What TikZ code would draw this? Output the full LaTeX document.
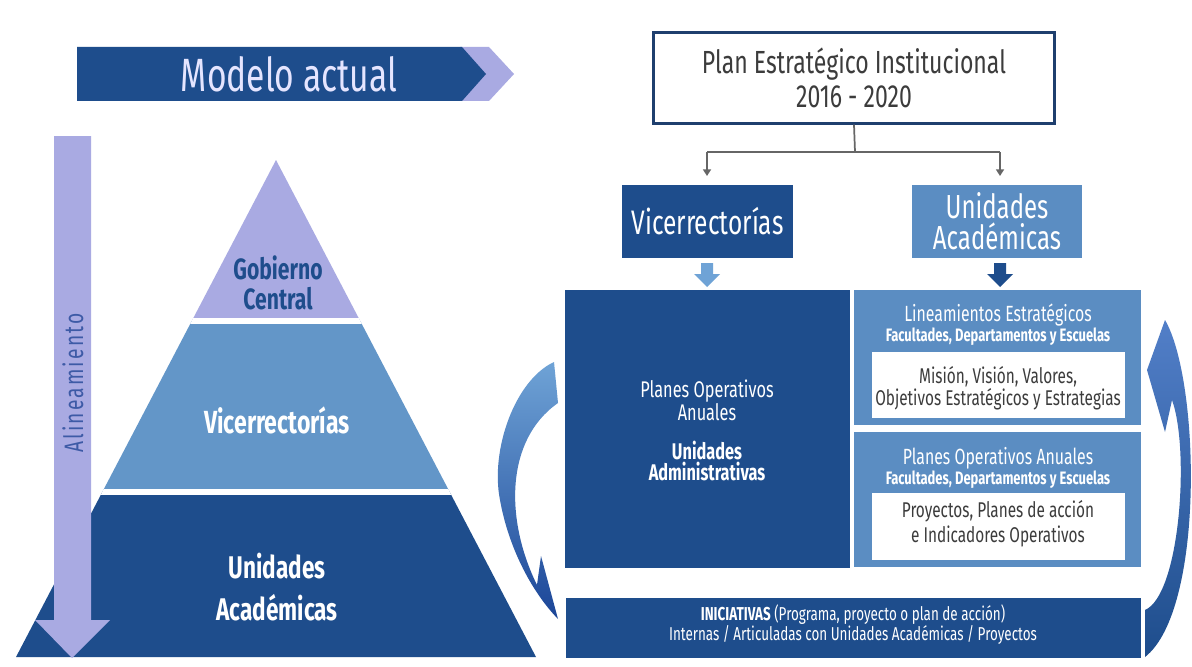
\documentclass[tikz,border=0pt]{standalone}
\usepackage{fontspec}
\setmainfont{Fira Sans}[FakeStretch=0.72]
\usetikzlibrary{arrows.meta}
\definecolor{dblue}{HTML}{1E4D8C}
\definecolor{mblue}{HTML}{5B8DC2}
\definecolor{pmid}{HTML}{6396C8}
\definecolor{lpurp}{HTML}{A9AAE2}
\definecolor{lblue}{HTML}{6FA3D6}
\definecolor{navy}{HTML}{1F3F6E}
\definecolor{txtgray}{HTML}{3C3C3C}
\definecolor{aliblue}{HTML}{3D5AA6}
\tikzset{
  wtxt/.style={text=white, align=center, inner sep=0},
  conn/.style={draw=gray!80!black, line width=1.3pt},
}
\begin{document}
\begin{tikzpicture}[x=0.75pt,y=-0.75pt]
\useasboundingbox (0,0) rectangle (1192,667);
\fill[white] (0,0) rectangle (1192,667);

% ---- Modelo actual banner
\fill[lpurp] (460,47) -- (489,47) -- (514,74) -- (489,101) -- (460,101) -- (485,74) -- cycle;
\fill[dblue] (77,47) -- (462,47) -- (486,74) -- (462,101) -- (77,101) -- cycle;
\node (modelo) [wtxt, text=white!90!blue, font=\fontsize{35}{38}\selectfont] at (289,74) {Modelo actual};

% ---- Pyramid
\begin{scope}
\clip (276,160) -- (536,657) -- (16,657) -- cycle;
\fill[lpurp] (0,150) rectangle (600,321);
\fill[pmid] (0,321) rectangle (600,492);
\fill[dblue] (0,492) rectangle (600,670);
\draw[white, line width=4pt] (0,321) -- (600,321);
\draw[white, line width=4pt] (0,492) -- (600,492);
\end{scope}
\node (gob) [align=center, inner sep=0, text=dblue, font=\fontsize{22}{22.5}\selectfont\bfseries] at (278,283) {Gobierno\\Central};
\node (pvice) [wtxt, font=\fontsize{24}{26}\selectfont\bfseries] at (277,420) {Vicerrectorías};
\node (punid) [wtxt, font=\fontsize{23.5}{31}\selectfont\bfseries] at (277,587) {Unidades\\Académicas};

% ---- Alineamiento arrow
\fill[lpurp] (54,136) -- (91,136) -- (91,620) -- (110,620) -- (72,658) -- (35,620) -- (54,620) -- cycle;
\node (ali) [rotate=90, inner sep=0, text=aliblue, font=\fontsize{20}{21}\selectfont\addfontfeature{LetterSpace=8}] at (73,383) {Alineamiento};

% ---- Plan box and connectors
\node (plan) [draw=navy, line width=2pt, fill=white, minimum width=301pt, minimum height=68pt, align=center, text=txtgray, font=\fontsize{24}{26}\selectfont] at (854,78) {Plan Estratégico Institucional\\2016 - 2020};
\node (vice) [fill=dblue, minimum width=128pt, minimum height=55pt, wtxt, font=\fontsize{25.5}{27}\selectfont] at (707.5,221.5) {Vicerrectorías};
\node (unid) [fill=mblue, minimum width=127pt, minimum height=55pt, wtxt, font=\fontsize{25}{23}\selectfont] at (997,221.5) {Unidades\\Académicas};
\coordinate (split) at (855,152);
\coordinate (jv) at (707,152);
\coordinate (ju) at (1000,152);
\coordinate (av) at (707,176);
\coordinate (au) at (1000,176);
\draw[conn] (plan.south) -- (split);
\draw[conn] (jv) -- (ju);
\draw[conn, -{Triangle[length=5pt,width=6pt]}] (jv) -- (av);
\draw[conn, -{Triangle[length=5pt,width=6pt]}] (ju) -- (au);

% block arrows
\fill[lblue] (701,263) -- (713,263) -- (713,274) -- (720,274) -- (707,287) -- (694,274) -- (701,274) -- cycle;
\fill[dblue] (994,263) -- (1006,263) -- (1006,274) -- (1013,274) -- (1000,287) -- (987,274) -- (994,274) -- cycle;

% ---- Dark box
\fill[dblue] (565,290) rectangle (850,568);
\node (dark) [wtxt, font=\fontsize{17}{15.5}\selectfont] at (707,430) {Planes Operativos\\Anuales\\[14pt]\bfseries Unidades\\\bfseries Administrativas};

% ---- Right panels
\fill[mblue] (854,290) rectangle (1141,425);
\fill[mblue] (854,432) rectangle (1141,567);
\fill[white] (872,352) rectangle (1125,418);
\fill[white] (872,493) rectangle (1125,560);
\node (lin) [wtxt, font=\fontsize{16.5}{17}\selectfont] at (998,315) {Lineamientos Estratégicos};
\node (fac1) [wtxt, font=\fontsize{13.5}{14}\selectfont\bfseries] at (998,337) {Facultades, Departamentos y Escuelas};
\node (mis) [align=center, inner sep=0, text=txtgray, font=\fontsize{16}{13}\selectfont] at (998,388) {Misión, Visión, Valores,\\Objetivos Estratégicos y Estrategias};
\node (poa) [wtxt, font=\fontsize{16.5}{17}\selectfont] at (998,458) {Planes Operativos Anuales};
\node (fac2) [wtxt, font=\fontsize{13.5}{14}\selectfont\bfseries] at (998,480) {Facultades, Departamentos y Escuelas};
\node (proy) [align=center, inner sep=0, text=txtgray, font=\fontsize{16}{19}\selectfont] at (998,524) {Proyectos, Planes de acción\\e Indicadores Operativos};

% ---- Bottom bar
\fill[dblue] (566,598) rectangle (1141,658);
\node (ini) [wtxt, font=\fontsize{14}{15}\selectfont] at (853,625) {\textbf{INICIATIVAS} (Programa, proyecto o plan de acción)\\Internas / Articuladas con Unidades Académicas / Proyectos};

% ---- Curved arrows
\shade[top color=lblue, bottom color=dblue!90!blue]
  (554,362) .. controls (515,380) and (490,450) .. (500,500)
  .. controls (508,545) and (530,590) .. (558,619)
  -- (541,556) -- (537,585)
  .. controls (505,520) and (505,440) .. (558,403) -- cycle;
\shade[top color=mblue!90!blue, bottom color=dblue]
  (1145,610) .. controls (1180,595) and (1190,450) .. (1172,400)
  -- (1165,432) -- (1147,370) -- (1165,320)
  .. controls (1200,380) and (1205,610) .. (1145,657) -- cycle;
\end{tikzpicture}
\end{document}
